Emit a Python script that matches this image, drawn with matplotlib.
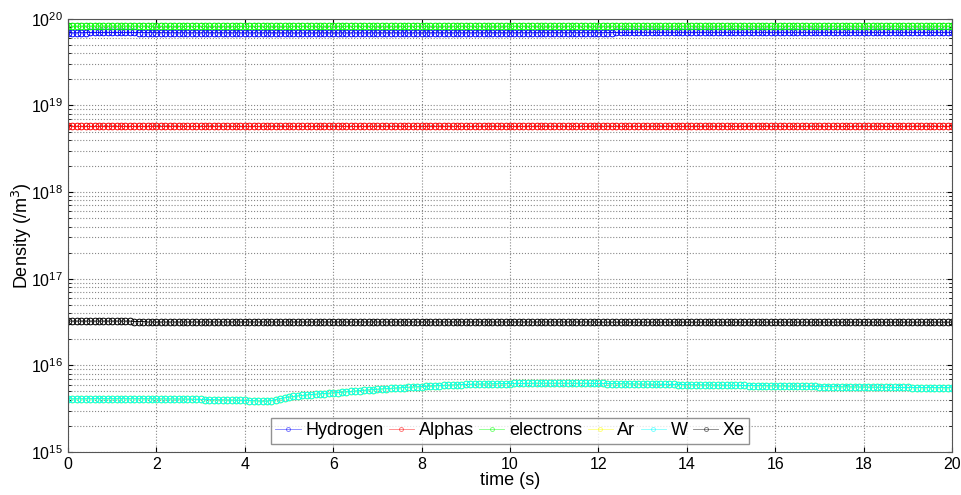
import numpy as np
from matplotlib import pyplot as plt

plt.rcParams['font.family'] = ['Liberation Sans', 'DejaVu Sans']

# time base (s), 0.1 s steps
time = np.round(np.arange(0, 201) * 0.1, 1)

# Hydrogen (x1e19 /m3)
hydrogen = [6.85, 6.86, 6.88, 6.90, 6.93, 6.95, 6.96, 6.97, 6.97, 6.97,
            6.97, 6.97, 6.97, 6.96, 6.96, 6.95, 6.94, 6.93, 6.92, 6.91,
            6.90, 6.90, 6.90, 6.89, 6.89, 6.89, 6.89, 6.89, 6.89, 6.89,
            6.89, 6.89, 6.89, 6.88, 6.88, 6.88, 6.88, 6.88, 6.88, 6.88,
            6.88, 6.88, 6.88, 6.87, 6.87, 6.87, 6.87, 6.86, 6.86, 6.86,
            6.86, 6.86, 6.86, 6.86, 6.86, 6.86, 6.86, 6.86, 6.86, 6.86,
            6.86, 6.86, 6.86, 6.86, 6.86, 6.87, 6.87, 6.87, 6.87, 6.87,
            6.87, 6.87, 6.87, 6.87, 6.87, 6.87, 6.87, 6.87, 6.87, 6.87,
            6.88, 6.88, 6.88, 6.88, 6.88, 6.88, 6.88, 6.88, 6.88, 6.88,
            6.88, 6.88, 6.88, 6.88, 6.88, 6.88, 6.88, 6.88, 6.88, 6.88,
            6.89, 6.89, 6.89, 6.89, 6.89, 6.89, 6.89, 6.89, 6.89, 6.89,
            6.89, 6.89, 6.89, 6.89, 6.89, 6.90, 6.90, 6.90, 6.90, 6.90,
            6.91, 6.92, 6.93, 6.94, 6.95, 6.96, 6.97, 6.98, 6.98, 6.98,
            6.98, 6.98, 6.98, 6.98, 6.98, 6.98, 6.98, 6.98, 6.98, 6.98,
            6.98, 6.98, 6.98, 6.98, 6.98, 6.98, 6.98, 6.98, 6.98, 6.98,
            6.98, 6.98, 6.98, 6.98, 6.98, 6.98, 6.98, 6.98, 6.98, 6.98,
            6.98, 6.98, 6.98, 6.98, 6.98, 6.98, 6.98, 6.98, 6.98, 6.98,
            6.98, 6.98, 6.98, 6.98, 6.98, 6.98, 6.98, 6.98, 6.98, 6.98,
            6.98, 6.98, 6.98, 6.98, 6.98, 6.98, 6.98, 6.98, 6.98, 6.98,
            6.98, 6.98, 6.98, 6.98, 6.98, 6.98, 6.98, 6.98, 6.98, 6.98,
            6.98]

# Alphas (x1e18 /m3)
alphas = [5.86] * 201

# electrons (x1e19 /m3)
electrons = [8.20, 8.20, 8.21, 8.22, 8.23, 8.24, 8.24, 8.24, 8.24, 8.24,
             8.24, 8.24, 8.24, 8.23, 8.23, 8.23, 8.22, 8.22, 8.21, 8.21,
             8.20, 8.20, 8.20, 8.20, 8.20, 8.20, 8.20, 8.20, 8.20, 8.20,
             8.19, 8.19, 8.19, 8.19, 8.19, 8.19, 8.19, 8.19, 8.19, 8.19,
             8.19, 8.19, 8.19, 8.19, 8.19, 8.19, 8.19, 8.19, 8.19, 8.19,
             8.19, 8.19, 8.19, 8.19, 8.19, 8.19, 8.19, 8.19, 8.19, 8.19,
             8.19, 8.19, 8.19, 8.19, 8.19, 8.19, 8.19, 8.19, 8.19, 8.19,
             8.20, 8.20, 8.20, 8.20, 8.20, 8.20, 8.20, 8.20, 8.20, 8.20,
             8.20, 8.20, 8.20, 8.20, 8.20, 8.20, 8.20, 8.20, 8.20, 8.20,
             8.20, 8.20, 8.20, 8.20, 8.20, 8.20, 8.20, 8.20, 8.20, 8.20,
             8.20, 8.20, 8.20, 8.20, 8.20, 8.20, 8.20, 8.20, 8.20, 8.20,
             8.20, 8.20, 8.20, 8.20, 8.20, 8.20, 8.20, 8.20, 8.20, 8.20,
             8.21, 8.21, 8.22, 8.22, 8.22, 8.22, 8.22, 8.22, 8.22, 8.22,
             8.22, 8.22, 8.22, 8.22, 8.22, 8.22, 8.22, 8.22, 8.22, 8.22,
             8.22, 8.22, 8.22, 8.22, 8.22, 8.22, 8.22, 8.22, 8.22, 8.22,
             8.22, 8.22, 8.22, 8.22, 8.22, 8.22, 8.22, 8.22, 8.22, 8.22,
             8.22, 8.22, 8.22, 8.22, 8.22, 8.22, 8.22, 8.22, 8.22, 8.22,
             8.22, 8.22, 8.22, 8.22, 8.22, 8.22, 8.22, 8.22, 8.22, 8.22,
             8.22, 8.22, 8.22, 8.22, 8.22, 8.22, 8.22, 8.22, 8.22, 8.22,
             8.22, 8.22, 8.22, 8.22, 8.22, 8.22, 8.22, 8.22, 8.22, 8.22,
             8.22]

# W (x1e15 /m3)
tungsten = [4.10, 4.10, 4.10, 4.11, 4.11, 4.12, 4.12, 4.12, 4.12, 4.12,
            4.12, 4.12, 4.12, 4.12, 4.12, 4.11, 4.11, 4.11, 4.11, 4.10,
            4.10, 4.10, 4.10, 4.10, 4.09, 4.09, 4.08, 4.07, 4.06, 4.05,
            4.04, 4.03, 4.02, 4.02, 4.01, 4.00, 3.99, 3.98, 3.97, 3.95,
            3.94, 3.92, 3.90, 3.88, 3.86, 3.86, 3.92, 4.02, 4.13, 4.22,
            4.30, 4.37, 4.43, 4.49, 4.55, 4.60, 4.64, 4.68, 4.72, 4.76,
            4.80, 4.85, 4.90, 4.95, 5.00, 5.05, 5.10, 5.15, 5.20, 5.25,
            5.30, 5.34, 5.38, 5.42, 5.46, 5.50, 5.54, 5.58, 5.62, 5.65,
            5.68, 5.72, 5.76, 5.80, 5.84, 5.87, 5.90, 5.93, 5.96, 5.99,
            6.01, 6.03, 6.05, 6.07, 6.09, 6.10, 6.12, 6.13, 6.14, 6.15,
            6.16, 6.17, 6.18, 6.19, 6.20, 6.20, 6.21, 6.21, 6.22, 6.22,
            6.22, 6.22, 6.22, 6.22, 6.21, 6.21, 6.20, 6.20, 6.19, 6.18,
            6.18, 6.17, 6.16, 6.15, 6.14, 6.13, 6.12, 6.11, 6.10, 6.09,
            6.08, 6.07, 6.06, 6.05, 6.04, 6.03, 6.02, 6.01, 6.00, 5.99,
            5.98, 5.97, 5.96, 5.95, 5.94, 5.93, 5.92, 5.91, 5.90, 5.89,
            5.88, 5.87, 5.86, 5.85, 5.84, 5.83, 5.82, 5.81, 5.80, 5.79,
            5.78, 5.77, 5.76, 5.75, 5.74, 5.73, 5.72, 5.71, 5.70, 5.70,
            5.69, 5.68, 5.67, 5.66, 5.65, 5.65, 5.64, 5.63, 5.62, 5.62,
            5.61, 5.60, 5.59, 5.59, 5.58, 5.57, 5.57, 5.56, 5.56, 5.55,
            5.55, 5.54, 5.54, 5.53, 5.53, 5.53, 5.52, 5.52, 5.52, 5.52,
            5.52]

# Ar sits under W (same values, hidden)
argon = list(tungsten)

# Xe (x1e16 /m3)
xenon = [3.24] * 15 + [3.20] * 3 + [3.16] * 102 + [3.15] * 81

series = [("Hydrogen", np.array(hydrogen) * 1e19, (0, 0, 1)),
          ("Alphas", np.array(alphas) * 1e18, (1, 0, 0)),
          ("electrons", np.array(electrons) * 1e19, (0, 1, 0)),
          ("Ar", np.array(argon) * 1e15, (1, 1, 0)),
          ("W", np.array(tungsten) * 1e15, (0, 1, 1)),
          ("Xe", np.array(xenon) * 1e16, (0, 0, 0))]

fig = plt.figure(figsize=(9.62, 4.95), dpi=100)
ax = fig.add_axes([0.0707, 0.087, 0.919, 0.875])

for name, vals, col in series:
    ax.semilogy(time, vals, '-o', color=col, lw=0.6, ms=4.8, mew=0.7,
                mfc='none', label=name)

ax.set_xlim(0, 20)
ax.set_ylim(1e15, 1e20)
ax.set_xticks(range(0, 21, 2))
ax.set_yticks([1e15, 1e16, 1e17, 1e18, 1e19, 1e20])
ax.grid(True, which='major', ls=':', color='#888888', lw=0.8)
ax.grid(True, which='minor', axis='y', ls=':', color='#888888', lw=0.8)
ax.tick_params(which='both', direction='in', top=True, right=True, labelsize=11.5)
ax.tick_params(which='minor', length=2.5)
for s in ax.spines.values():
    s.set_color('#555555')

ax.set_xlabel("time (s)", fontsize=13, labelpad=0)
ax.set_ylabel("Density (/m$^3$)", fontsize=13)
ax.yaxis.set_label_coords(-0.038, 0.5)

leg = ax.legend(loc='lower center', ncol=6, fontsize=13, frameon=True, fancybox=False,
                handlelength=1.4, handletextpad=0.25, columnspacing=0.3,
                borderpad=0.25, borderaxespad=0.45, markerscale=0.6)
for h in leg.get_lines():
    h.set_alpha(0.5)
leg.get_frame().set_edgecolor('#777777')
leg.get_frame().set_linewidth(1.0)

fig.savefig("out.png", dpi=100)
